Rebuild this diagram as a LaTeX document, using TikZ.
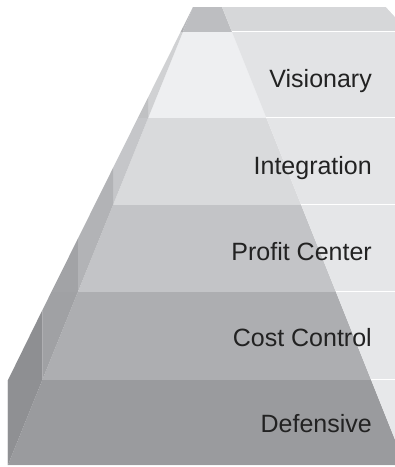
\documentclass[tikz,border=0pt]{standalone}
\usepackage{fontspec}
\setmainfont{Liberation Sans}
% layer shades: front face, right face, left face (light part / dark part)
\definecolor{capF}{HTML}{BDBEC1}\definecolor{capR}{HTML}{D6D7D9}\definecolor{capL}{HTML}{B8B9BC}\definecolor{capD}{HTML}{AEAFB2}
\definecolor{visF}{HTML}{EEEFF1}\definecolor{visR}{HTML}{E2E3E5}\definecolor{visL}{HTML}{D0D1D3}\definecolor{visD}{HTML}{C0C1C3}
\definecolor{intF}{HTML}{D9DADC}\definecolor{intR}{HTML}{E4E5E7}\definecolor{intL}{HTML}{C5C6C9}\definecolor{intD}{HTML}{B2B3B6}
\definecolor{proF}{HTML}{C3C4C7}\definecolor{proR}{HTML}{E5E6E8}\definecolor{proL}{HTML}{B2B3B6}\definecolor{proD}{HTML}{A2A3A6}
\definecolor{cstF}{HTML}{ADAEB1}\definecolor{cstR}{HTML}{E6E7E9}\definecolor{cstL}{HTML}{A0A1A4}\definecolor{cstD}{HTML}{8E8F92}
\definecolor{defF}{HTML}{9A9B9E}\definecolor{defR}{HTML}{E7E8EA}\definecolor{defL}{HTML}{8F9093}\definecolor{defD}{HTML}{8A8B8E}
\definecolor{labeltext}{HTML}{222222}
\begin{document}
\begin{tikzpicture}[x=1pt,y=-1pt,
  tier/.style={anchor=base east,inner sep=0pt,text=labeltext,
    font=\fontsize{25}{30}\selectfont},
  seam/.style={white,line width=1.2pt}]
\useasboundingbox (0,0) rectangle (395,467);
\clip (0,0) rectangle (395,467);
% each slab: front-left edge f(y), outer silhouette s(y), front-right edge g(y)
\foreach \yt/\yb/\cf/\cr/\cl/\cd in {
    7/32/capF/capR/capL/capD,
    32/118/visF/visR/visL/visD,
    118/205/intF/intR/intL/intD,
    205/292/proF/proR/proL/proD,
    292/380/cstF/cstR/cstL/cstD,
    380/465/defF/defR/defL/defD}{
  \pgfmathsetmacro\ft{193-0.404*(\yt-7)}
  \pgfmathsetmacro\fb{193-0.404*(\yb-7)}
  \pgfmathsetmacro\st{max(8,193-0.497*(\yt-7))}
  \pgfmathsetmacro\sb{max(8,193-0.497*(\yb-7))}
  \pgfmathsetmacro\yv{max(\yt,7+(193-\fb)/0.497)}
  \pgfmathsetmacro\gt{232+0.4*(\yt-32)}
  \pgfmathsetmacro\gb{232+0.4*(\yb-32)}
  % front face
  \fill[\cf] (\ft,\yt) -- (\gt,\yt) -- (\gb,\yb) -- (\fb,\yb) -- cycle;
  % right face
  \fill[\cr] (\gt,\yt) -- (400,\yt) -- (400,\yb) -- (\gb,\yb) -- cycle;
  % left face, lit part and shadowed part
  \fill[\cl] (\st,\yt) -- (\ft,\yt) -- (\fb,\yb) -- (\fb,\yv) -- cycle;
  \fill[\cd] (\fb,\yv) -- (\fb,\yb) -- (\sb,\yb) -- cycle;
  % seam along the bottom of the slab
  \draw[seam] (\gb,\yb) -- (400,\yb);
  \draw[white,opacity=0.3,line width=0.8pt] (\fb,\yb) -- (\gb,\yb);
}
% trimmed corner of the top slab
\fill[white] (385,6) -- (397,6) -- (397,19) -- cycle;
\fill[white] (0,465.5) rectangle (400,470);
% tier names
\node[tier] (visionary)   at (372,87)  {Visionary};
\node[tier] (integration) at (372,174) {Integration};
\node[tier] (profit)      at (372,260) {Profit Center};
\node[tier] (cost)        at (372,346) {Cost Control};
\node[tier] (defensive)   at (372,432) {Defensive};
\end{tikzpicture}
\end{document}
